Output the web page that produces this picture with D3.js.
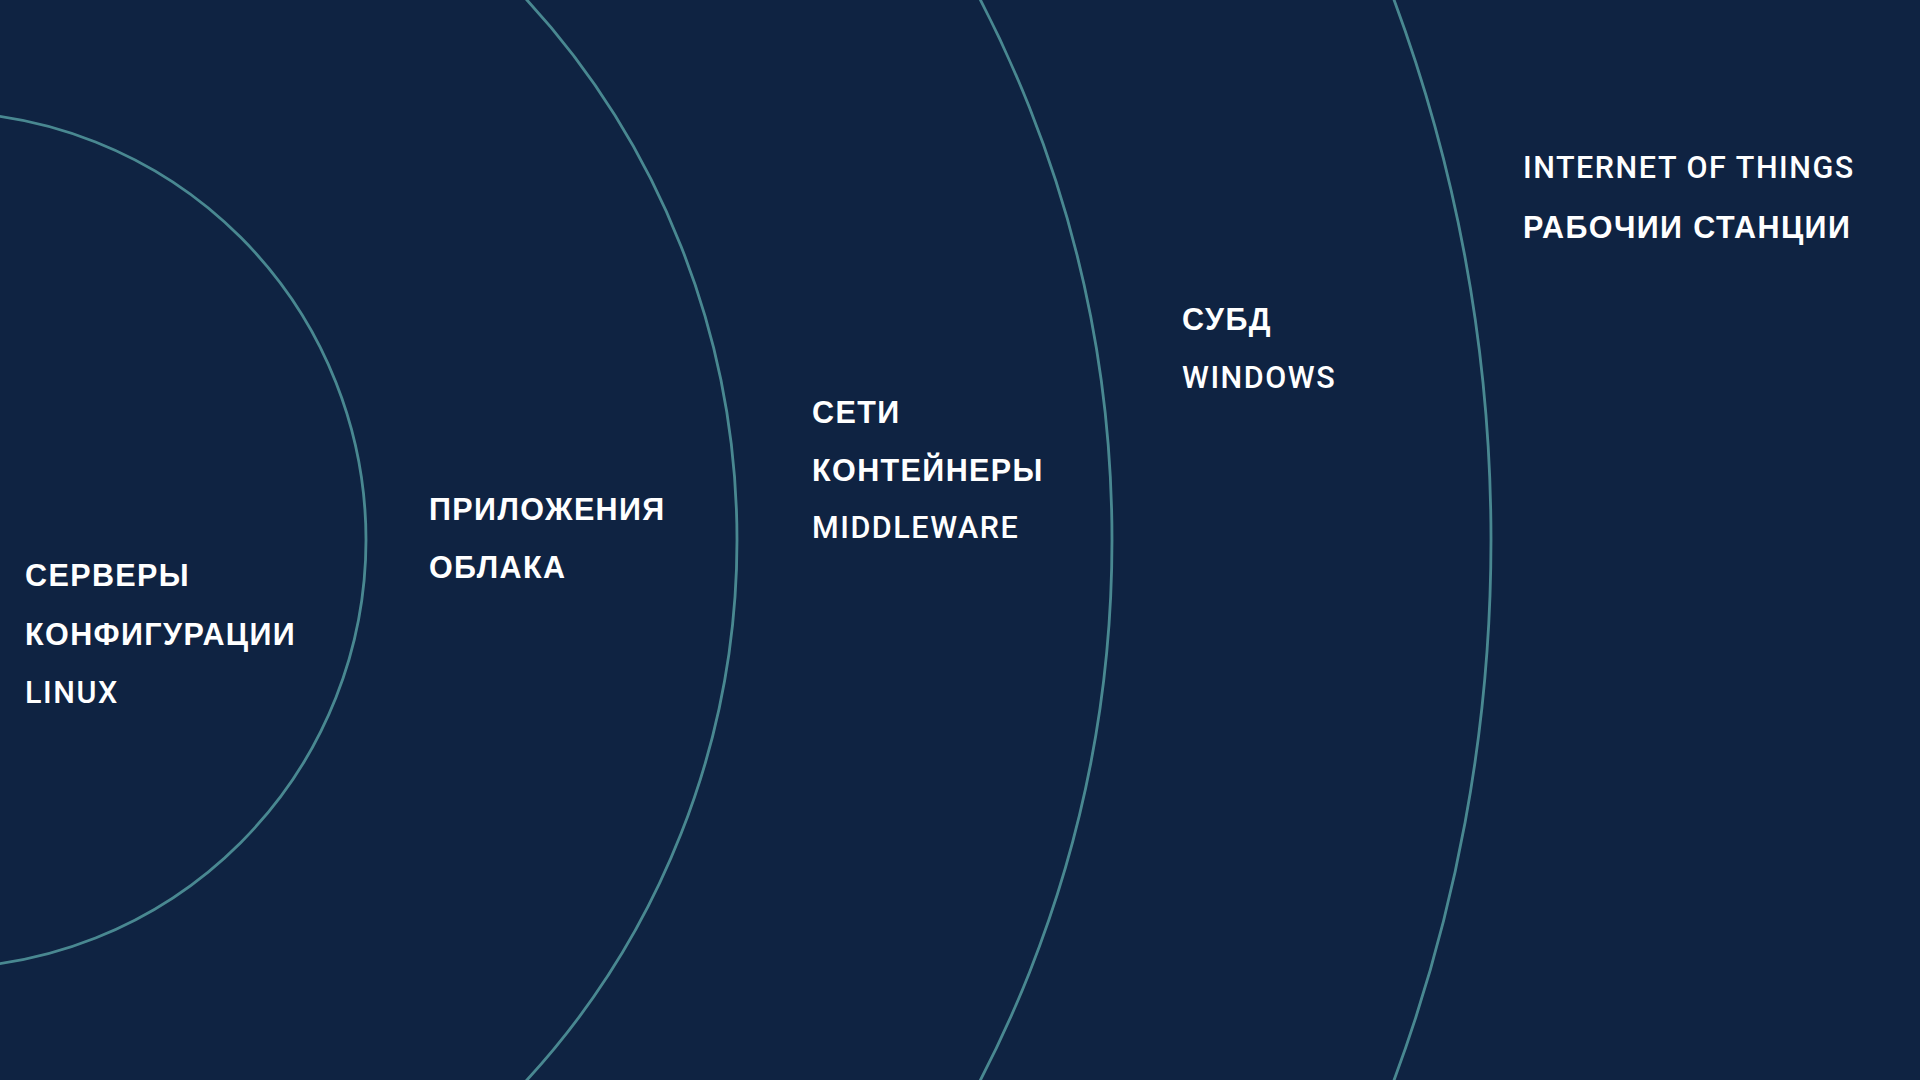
<!DOCTYPE html>
<html>
<head>
<meta charset="utf-8">
<script src="https://cdn.jsdelivr.net/npm/d3@7"></script>
<style>
  html, body { margin: 0; padding: 0; background: #0f2342; }
  svg { display: block; }
</style>
</head>
<body>
<svg id="chart" width="1920" height="1080"></svg>
<script>
// ---- DATA ----
const ringLevels = [1, 2, 3, 4];
const ringRadii = [428, 799, 1174, 1553];
const groupItems = [
  ["СЕРВЕРЫ", "КОНФИГУРАЦИИ", "LINUX"],
  ["ПРИЛОЖЕНИЯ", "ОБЛАКА"],
  ["СЕТИ", "КОНТЕЙНЕРЫ", "MIDDLEWARE"],
  ["СУБД", "WINDOWS"],
  ["INTERNET OF THINGS", "РАБОЧИИ СТАНЦИИ"]
];
const itemKinds = [
  ["domain", "domain", "platform"],
  ["domain", "domain"],
  ["domain", "domain", "platform"],
  ["domain", "platform"],
  ["platform", "domain"]
];

// ---- LAYOUT ----
const W = 1920, H = 1080;
const center = { x: -62, y: 540 };
const groupAnchor = [
  { x: 25, y: 586, step: 58.5 },
  { x: 429, y: 520, step: 58 },
  { x: 812, y: 423, step: 57.5 },
  { x: 1182, y: 330, step: 58 },
  { x: 1523, y: 178, step: 60 }
];

const svg = d3.select("#chart");
svg.append("rect").attr("width", W).attr("height", H).attr("fill", "#0f2342");

const rScale = d3.scaleOrdinal().domain(ringLevels).range(ringRadii);

svg.append("g")
  .selectAll("circle")
  .data(ringLevels)
  .join("circle")
  .attr("cx", center.x)
  .attr("cy", center.y)
  .attr("r", d => rScale(d))
  .attr("fill", "none")
  .attr("stroke", "#4d8e96")
  .attr("stroke-width", 2.8)
  .attr("stroke-opacity", 0.95);

const groups = svg.append("g")
  .selectAll("g")
  .data(groupItems.map((items, i) => ({ items, kinds: itemKinds[i], anchor: groupAnchor[i] })))
  .join("g")
  .attr("transform", d => `translate(${d.anchor.x},${d.anchor.y})`);

groups.selectAll("text")
  .data(d => d.items.map((t, j) => ({ t, kind: d.kinds[j], y: j * d.anchor.step })))
  .join("text")
  .attr("x", 0)
  .attr("y", d => d.y)
  .attr("fill", "#ffffff")
  .attr("font-family", d => d.kind === "domain" ? "'Liberation Sans', Arial, sans-serif" : "Roboto, sans-serif")
  .attr("font-weight", d => d.kind === "domain" ? 700 : 500)
  .attr("font-size", 30.5)
  .attr("letter-spacing", d => d.kind === "domain" ? 1.4 : 1.55)
  .text(d => d.t);
</script>
</body>
</html>
